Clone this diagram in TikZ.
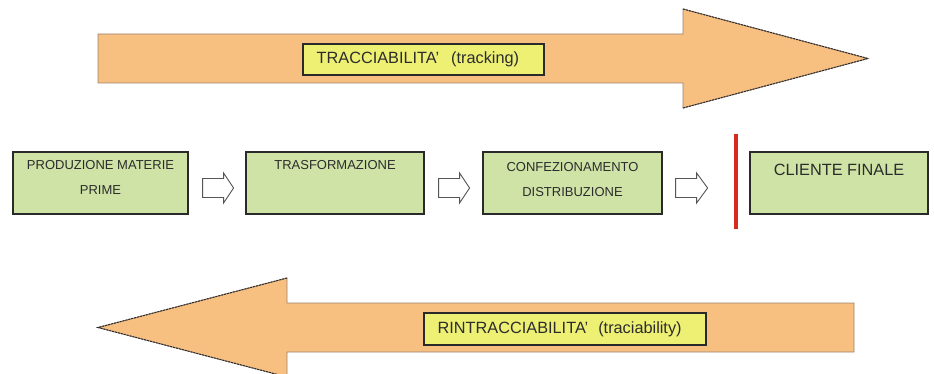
\documentclass[tikz,border=0pt]{standalone}
\usepackage{fontspec}
\setmainfont{Liberation Sans}
\usetikzlibrary{calc}
\definecolor{orangefill}{HTML}{F7BF80}
\definecolor{orangeline}{HTML}{9C8270}
\definecolor{yellowfill}{HTML}{EEF074}
\definecolor{greenfill}{HTML}{CFE3A6}
\definecolor{boxline}{HTML}{2A2A2A}
\definecolor{textgray}{HTML}{2C2C2C}
\definecolor{arrowgray}{HTML}{555555}
\definecolor{redbar}{HTML}{D62A1E}
\begin{document}
\begin{tikzpicture}[x=1pt,y=-1pt,
  bigarrow/.style={fill=orangefill, draw=orangeline, line width=0.9pt, line join=miter},
  headedge/.style={draw=boxline, line width=1pt, dash pattern=on 2pt off 1pt},
  labelbox/.style={draw=boxline, fill=yellowfill, line width=1.1pt, inner sep=0pt},
  gbox/.style={draw=boxline, fill=greenfill, line width=1.2pt, inner sep=0pt, minimum height=62pt},
  mtext/.style={text=textgray, font=\fontsize{13}{13}\selectfont, inner sep=0pt},
  btext/.style={text=textgray, font=\fontsize{16.3}{16.3}\selectfont, inner sep=0pt},
  hollow/.style={draw=arrowgray, fill=white, line width=0.9pt, line join=miter},
  redline/.style={draw=redbar, line width=4pt}]
\useasboundingbox (0,0) rectangle (934,374);

% top arrow (tracking)
\draw[bigarrow] (98,34) -- (683,34) -- (683,9) -- (868,58.5) -- (683,108) -- (683,83) -- (98,83) -- cycle;
\draw[headedge] (683,9) -- (868,58.5) -- (683,108);
\node[labelbox, minimum width=241pt, minimum height=31pt] (lt) at (423.5,59.5) {};
\node[btext, anchor=west] (ltt) at ($(lt.west)+(14,0)$) {TRACCIABILITA'\hspace{12pt}(tracking)};

% bottom arrow (traceability)
\draw[bigarrow] (854,303) -- (287,303) -- (287,278) -- (98,327.5) -- (287,377) -- (287,352) -- (854,352) -- cycle;
\draw[headedge] (287,278) -- (98,327.5) -- (287,377);
\node[labelbox, minimum width=282pt, minimum height=32pt] (lb) at (565,329) {};
\node[btext, anchor=west] (lbt) at ($(lb.west)+(14,0)$) {RINTRACCIABILITA'\hspace{10pt}(traciability)};

% process boxes
\node[gbox, minimum width=175pt] (b1) at (100.5,183) {};
\node[gbox, minimum width=178pt] (b2) at (335,183) {};
\node[gbox, minimum width=179pt] (b3) at (572.5,183) {};
\node[gbox, minimum width=178pt] (b4) at (839,183) {};

\node[mtext] (t1a) at (100.5,165) {PRODUZIONE MATERIE};
\node[mtext] (t1b) at (100.5,190) {PRIME};
\node[mtext] (t2a) at (335,165) {TRASFORMAZIONE};
\node[mtext] (t3a) at (572.5,167) {CONFEZIONAMENTO};
\node[mtext] (t3b) at (572.5,192) {DISTRIBUZIONE};
\node[btext] (t4a) at (839,170) {CLIENTE FINALE};

% hollow arrows between boxes
\draw[hollow, shift={(b1.east)}] (14,-4.5) -- (35,-4.5) -- (35,-10) -- (45,5) -- (35,20) -- (35,14.5) -- (14,14.5) -- cycle;
\draw[hollow, shift={(b2.east)}] (14,-4.5) -- (35,-4.5) -- (35,-10) -- (45,5) -- (35,20) -- (35,14.5) -- (14,14.5) -- cycle;
\draw[hollow, shift={(b3.east)}] (13,-4.5) -- (34,-4.5) -- (34,-10) -- (45,5) -- (34,20) -- (34,14.5) -- (13,14.5) -- cycle;

% red separator
\coordinate (rtop) at (736,134);
\coordinate (rbot) at (736,229);
\draw[redline] (rtop) -- (rbot);
\end{tikzpicture}
\end{document}
